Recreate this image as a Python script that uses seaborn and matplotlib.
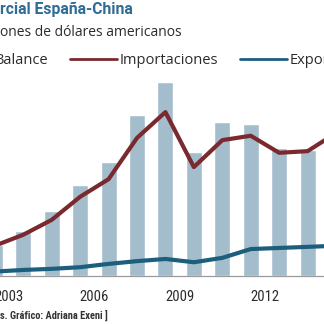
import numpy as np
import pandas as pd
import matplotlib
matplotlib.use("Agg")
import matplotlib.pyplot as plt
import seaborn as sns

# ---- data (miles de millones de USD) ----
years = [2002, 2003, 2004, 2005, 2006, 2007, 2008, 2009, 2010, 2011, 2012, 2013, 2014]
balance = [5.6, 8.2, 11.8, 16.5, 20.7, 29.3, 35.3, 22.5, 28.0, 27.6, 23.3, 22.9, 25.0]
importaciones = [5.5, 7.5, 10.2, 14.4, 17.6, 25.1, 29.8, 19.8, 24.7, 25.5, 22.4, 22.7, 26.0]
exportaciones = [0.8, 1.1, 1.3, 1.6, 2.2, 2.7, 3.1, 2.5, 3.3, 4.9, 5.1, 5.3, 5.5]
tick_years = [2003, 2006, 2009, 2012]
tick_labels = ["2003", "2006", "2009", "2012"]

title = "rcial España-China"
subtitle = "ones de dólares americanos"
footer = "s. Gráfico: Adriana Exeni ]"

BAR = "#a3bdcd"
RED = "#7a2a2e"
BLUE = "#1c5f7c"
TITLE_C = "#2f6d95"
TEXT_C = "#2b2b2b"

sns.set_theme(style="white")
plt.rcParams["font.family"] = ["Open Sans", "DejaVu Sans"]

df = pd.DataFrame({"x": np.array(years) + 0.5, "Balance": balance,
                   "Importaciones": importaciones, "Exportaciones": exportaciones})

W = H = 324
fig = plt.figure(figsize=(3.24, 3.24), dpi=100)
base_px = 276
ax = fig.add_axes([0, (H - base_px) / H, 1, base_px / H])

sns.barplot(data=df, x="x", y="Balance", native_scale=True, width=0.563,
            color=BAR, saturation=1, ax=ax, label="Balance")
sns.lineplot(data=df, x="x", y="Importaciones", color=RED, linewidth=3.0,
             ax=ax, label="Importaciones")
sns.lineplot(data=df, x="x", y="Exportaciones", color=BLUE, linewidth=3.0,
             ax=ax, label="Exportaciones")

px_per_yr = 28.44
x0 = 2003 - 9 / px_per_yr
ax.set_xlim(x0, x0 + W / px_per_yr)
ax.set_ylim(0, base_px / 5.5)
ax.set_xticks(tick_years)
ax.set_xticklabels(tick_labels)
ax.set_yticks([])
ax.set_xlabel("")
ax.set_ylabel("")
for s in ["top", "left", "right"]:
    ax.spines[s].set_visible(False)
ax.spines["bottom"].set_color("#9a9a9a")
ax.spines["bottom"].set_linewidth(0.9)
ax.tick_params(axis="x", direction="inout", length=14, width=0.8, color="#8a8a8a",
               pad=3, labelsize=10.5, labelcolor=TEXT_C)
for t in ax.get_xticklabels():
    t.set_family(["Roboto Condensed", "Liberation Sans Narrow", "Roboto", "DejaVu Sans"])
ax.set_facecolor("none")

handles, labels = ax.get_legend_handles_labels()
order = ["Balance", "Importaciones", "Exportaciones"]
hmap = dict(zip(labels, handles))
handles = [hmap[k] for k in order]


def make_legend(xanchor):
    lg = ax.legend(handles, order, ncol=3, frameon=False, loc="center left",
                   bbox_to_anchor=(xanchor, 1 - 61 / H), bbox_transform=fig.transFigure,
                   borderpad=0, borderaxespad=0, handlelength=3.2, handletextpad=0.2,
                   columnspacing=1.5,
                   prop={"family": ["Open Sans", "DejaVu Sans"], "size": 10.5},
                   labelcolor=TEXT_C)
    for h in lg.get_lines():
        h.set_linewidth(2.0)
    return lg


leg = make_legend(-60 / W)
fig.canvas.draw()
r = fig.canvas.get_renderer()
red_line = leg.get_lines()[0]
xs = red_line.get_window_extent(r).x0
shift = 70 - xs
leg = make_legend((-60 + shift) / W)

fig.text(0, 1 - 9 / H, title, ha="left", va="center", fontsize=11.3, fontweight="bold",
         color=TITLE_C, family=["Roboto", "DejaVu Sans"])
fig.text(0, 1 - 32 / H, subtitle, ha="left", va="center", fontsize=10,
         color=TEXT_C, family=["Open Sans", "DejaVu Sans"])
fig.text(0, 1 - 315 / H, footer, ha="left", va="center", fontsize=7.5, fontweight="bold",
         color="#333333", family=["Roboto Condensed", "Liberation Sans Narrow", "Roboto", "DejaVu Sans"])

fig.savefig("out.png", dpi=100)
